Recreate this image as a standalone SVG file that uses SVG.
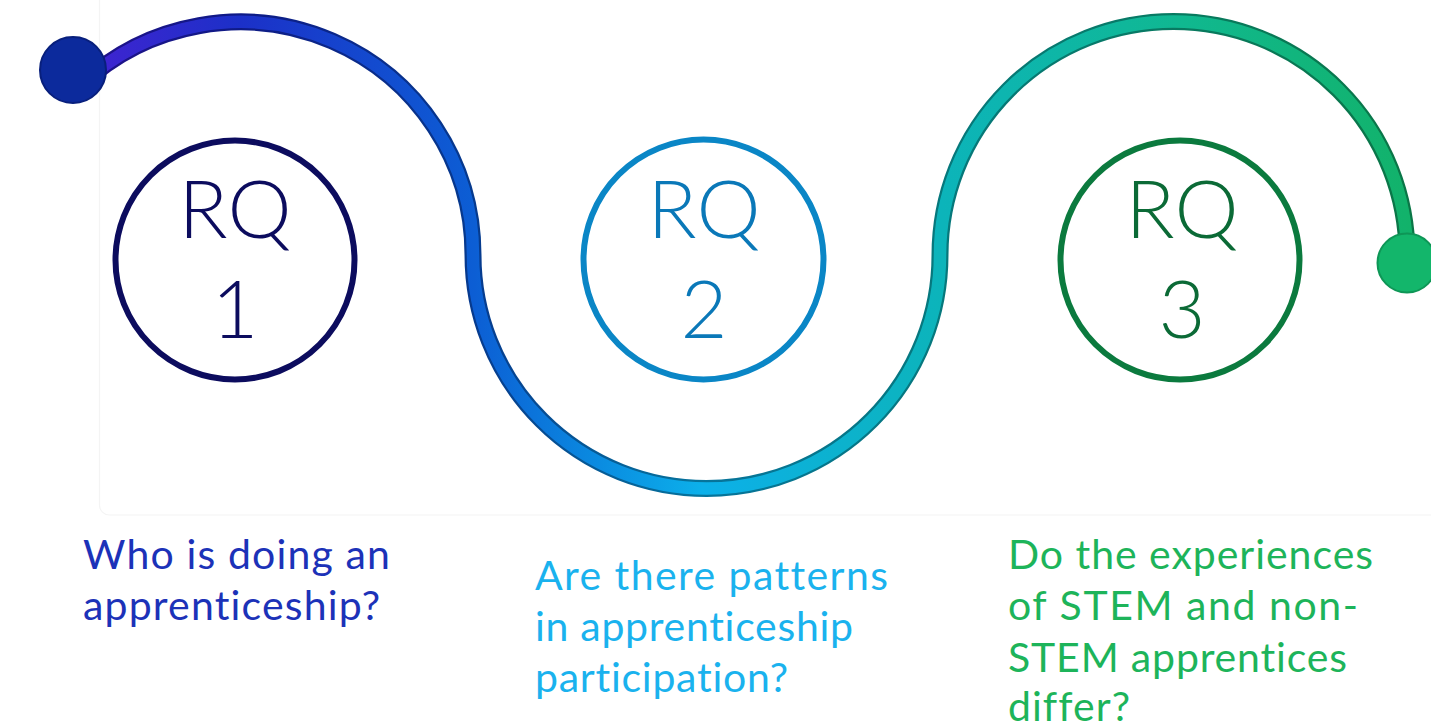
<svg xmlns="http://www.w3.org/2000/svg" width="1431" height="725" viewBox="0 0 1431 725">
  <defs>
    <linearGradient id="trackFill" gradientUnits="userSpaceOnUse" x1="73" y1="0" x2="1410" y2="0">
      <stop offset="0" stop-color="#4422d2"/>
      <stop offset="0.125" stop-color="#1c30c8"/>
      <stop offset="0.3" stop-color="#0c5ed4"/>
      <stop offset="0.39" stop-color="#0a8ae0"/>
      <stop offset="0.47" stop-color="#0cb0ea"/>
      <stop offset="0.58" stop-color="#0cb2cc"/>
      <stop offset="0.65" stop-color="#0cb4ba"/>
      <stop offset="0.83" stop-color="#10b890"/>
      <stop offset="1" stop-color="#12b26a"/>
    </linearGradient>
    <linearGradient id="trackEdge" gradientUnits="userSpaceOnUse" x1="73" y1="0" x2="1410" y2="0">
      <stop offset="0" stop-color="#22108a"/>
      <stop offset="0.125" stop-color="#0e1a86"/>
      <stop offset="0.3" stop-color="#063a8e"/>
      <stop offset="0.39" stop-color="#065a96"/>
      <stop offset="0.47" stop-color="#06749c"/>
      <stop offset="0.58" stop-color="#067688"/>
      <stop offset="0.65" stop-color="#06787c"/>
      <stop offset="0.83" stop-color="#087a60"/>
      <stop offset="1" stop-color="#0a7646"/>
    </linearGradient>
    <style>
      .track-edge { fill: none; stroke: url(#trackEdge); stroke-width: 17; stroke-linecap: round; }
      .track { fill: none; stroke: url(#trackFill); stroke-width: 12.5; stroke-linecap: round; }
      .ring { fill: #ffffff; stroke-width: 6; }
      .rq { font-family: Lato, "Open Sans", sans-serif; font-weight: 300; font-size: 81px; text-anchor: middle; }
      .q { font-family: Lato, "Noto Sans", sans-serif; font-size: 41px; font-variant-ligatures: none; font-feature-settings: "liga" 0, "clig" 0; }
      .frame { fill: none; stroke: #f4f4f4; stroke-width: 1.2; }
    </style>
  </defs>

  <rect width="1431" height="725" fill="#ffffff"/>
  <rect class="frame" x="99.5" y="-20" width="1400" height="535" rx="10"/>

  <!-- winding track linking the three questions -->
  <g id="connectors">
    <path class="track-edge" d="M 80 85.6 A 233 233 0 0 1 473 255 A 233.5 233.5 0 0 0 940 255 A 233.5 233.5 0 0 1 1407 255 L 1407 262"/>
    <path class="track" d="M 80 85.6 A 233 233 0 0 1 473 255 A 233.5 233.5 0 0 0 940 255 A 233.5 233.5 0 0 1 1407 255 L 1407 262"/>
  </g>

  <g id="start-dot">
    <circle cx="73" cy="70" r="33" fill="#0c2a9c" stroke="#081f7c" stroke-width="2"/>
  </g>
  <g id="end-dot">
    <circle cx="1407" cy="263" r="29.5" fill="#13b66b" stroke="#0e9656" stroke-width="2"/>
  </g>

  <g id="rq1">
    <circle class="ring" cx="235" cy="260" r="119.5" stroke="#0c0c5e"/>
    <text class="rq" x="235" y="238" fill="#0c0c5e">RQ</text>
    <text class="rq" x="235" y="338" fill="#0c0c5e">1</text>
  </g>
  <g id="rq2">
    <circle class="ring" cx="703.5" cy="259.5" r="120" stroke="#0a86c6"/>
    <text class="rq" x="704" y="238" fill="#0a78b8">RQ</text>
    <text class="rq" x="704" y="338" fill="#0a78b8">2</text>
  </g>
  <g id="rq3">
    <circle class="ring" cx="1180" cy="260" r="119.5" stroke="#0b7a3e"/>
    <text class="rq" x="1182" y="238" fill="#0b6a36">RQ</text>
    <text class="rq" x="1182" y="338" fill="#0b6a36">3</text>
  </g>

  <g id="question1" class="q" fill="#1c32b8">
    <text x="83" y="569" textLength="307" lengthAdjust="spacing">Who is doing an</text>
    <text x="83" y="620" textLength="297" lengthAdjust="spacing">apprenticeship?</text>
  </g>
  <g id="question2" class="q" fill="#1ab2ee">
    <text x="535" y="590" textLength="353" lengthAdjust="spacing">Are there patterns</text>
    <text x="535" y="641" textLength="318" lengthAdjust="spacing">in apprenticeship</text>
    <text x="535" y="692" textLength="253" lengthAdjust="spacing">participation?</text>
  </g>
  <g id="question3" class="q" fill="#1db45a">
    <text x="1008" y="569" textLength="365" lengthAdjust="spacing">Do the experiences</text>
    <text x="1008" y="620" textLength="350" lengthAdjust="spacing">of STEM and non-</text>
    <text x="1008" y="672" textLength="339" lengthAdjust="spacing">STEM apprentices</text>
    <text x="1008" y="721" textLength="122" lengthAdjust="spacing">differ?</text>
  </g>
</svg>
